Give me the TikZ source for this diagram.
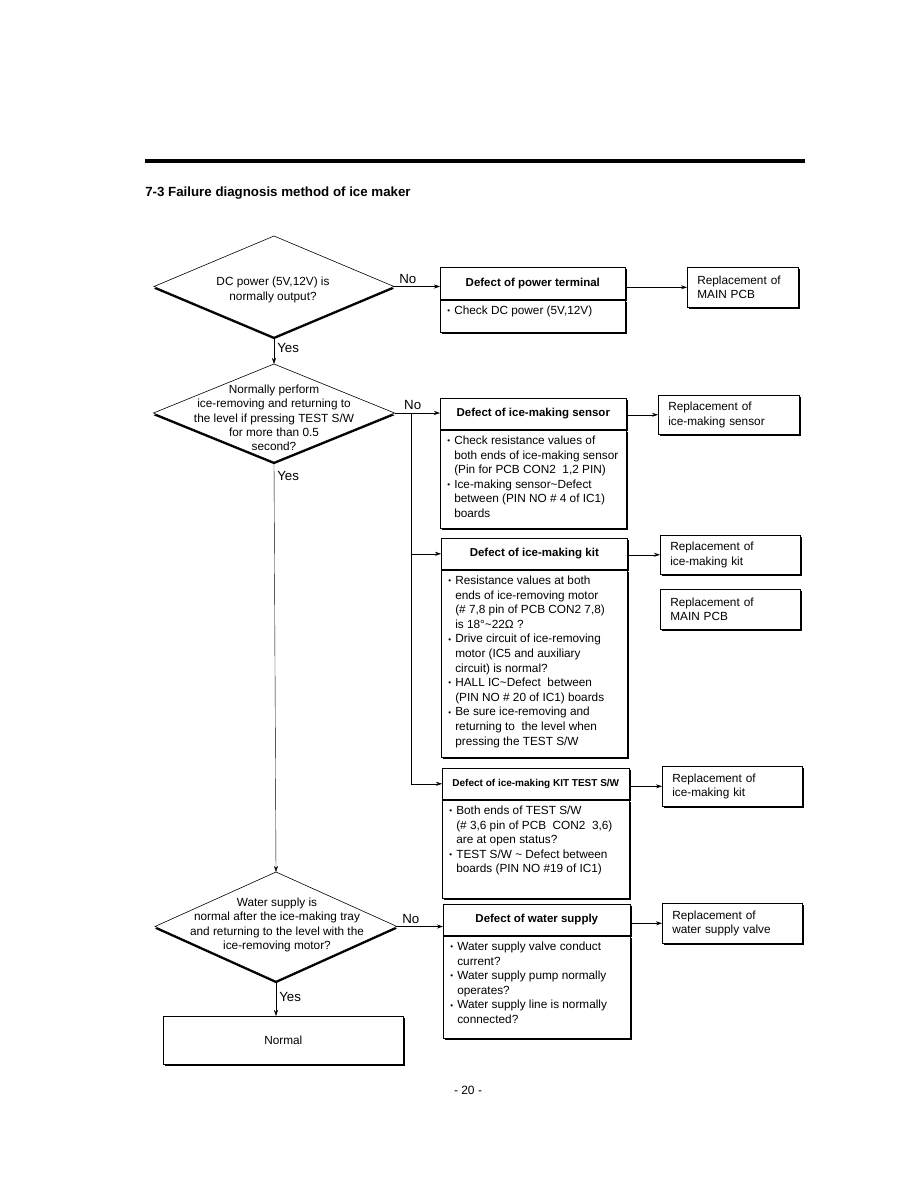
\documentclass[tikz,border=0pt]{standalone}
\usepackage{fontspec}
\setmainfont{Liberation Sans}
\usetikzlibrary{shapes.geometric, shadows, arrows.meta}

\newcommand{\bl}{\makebox[7pt][l]{\raisebox{0.8pt}{\fontsize{8}{8}\selectfont\textbullet}}}
\newcommand{\ind}{\hspace*{7pt}}

\tikzset{
  question/.style={draw, diamond, fill=white, inner sep=0pt, outer sep=0pt, line width=0.6pt,
    drop shadow={shadow xshift=0pt, shadow yshift=-2.2pt, opacity=1, fill=black}},
  qtext/.style={align=center, inner sep=0pt, font=\fontsize{11.8}{14.3}\selectfont},
  headbox/.style={draw, fill=white, anchor=north west, inner sep=0pt, minimum height=31pt, line width=0.6pt,
    font=\bfseries\fontsize{11.5}{14}\selectfont,
    drop shadow={shadow xshift=1.6pt, shadow yshift=-1.6pt, opacity=1, fill=black}},
  bodybox/.style={draw, fill=white, anchor=north, inner xsep=7pt, inner ysep=6pt, line width=0.6pt,
    font=\fontsize{11.8}{14.6}\selectfont,
    drop shadow={shadow xshift=1.6pt, shadow yshift=-1.6pt, opacity=1, fill=black}},
  repbox/.style={draw, fill=white, anchor=north west, align=left, inner xsep=10pt, inner ysep=0pt, line width=0.6pt,
    font=\fontsize{11.8}{14.6}\selectfont,
    drop shadow={shadow xshift=1.6pt, shadow yshift=-1.6pt, opacity=1, fill=black}},
  answer/.style={inner sep=0pt, font=\fontsize{13.3}{14}\selectfont},
}

\begin{document}
\begin{tikzpicture}[x=1pt, y=-1pt, >={Stealth[length=6pt,width=4pt]}, line width=0.6pt]
    \useasboundingbox (0,0) rectangle (918,1188);
    \draw[line width=4pt] (145,161) -- (805,161);
    \node[anchor=west, inner sep=0pt, font=\bfseries\fontsize{13.3}{16}\selectfont] (title) at (145,193) {7-3 Failure diagnosis method of ice maker};

    % first question
    \node[question, minimum width=240pt, minimum height=101pt] (d1) at (274,286.5) {};
    \node[qtext] (d1txt) at (273,290) {DC power (5V,12V) is\\normally output?};
    \node[headbox, minimum width=185pt, minimum height=32pt] (pthead) at (440,267) {Defect of power terminal};
    \node[bodybox] (ptbody) at (pthead.south) {\parbox[c][20pt][t]{171pt}{\bl Check DC power (5V,12V)}};
    \node[repbox, minimum width=111pt, minimum height=40pt, text width=91pt] (pcb1) at (687,267) {Replacement of\\MAIN PCB};

    % second question
    \node[question, minimum width=241pt, minimum height=98pt] (d2) at (274,413) {};
    \node[qtext] (d2txt) at (274,418) {Normally perform\\ice-removing and  returning to\\the level if pressing TEST S/W\\for more than 0.5\\second?};
    \node[headbox, minimum width=186pt] (senshead) at (440,398) {Defect of ice-making sensor};
    \node[bodybox] (sensbody) at (senshead.south) {\parbox[c][86pt][t]{172pt}{\bl Check resistance values of\\
      \ind both ends of ice-making sensor\\
      \ind (Pin for PCB CON2\ \ 1,2 PIN)\\
      \bl Ice-making sensor\textasciitilde Defect\\
      \ind between (PIN NO \# 4 of IC1)\\
      \ind boards}};
    \node[repbox, minimum width=141pt, minimum height=39pt, text width=121pt] (repsens) at (658,395) {Replacement of\\ice-making sensor};

    \node[headbox, minimum width=186pt] (kithead) at (441,538) {Defect of ice-making kit};
    \node[bodybox] (kitbody) at (kithead.south) {\parbox[c][175pt][t]{172pt}{\bl Resistance values at both\\
      \ind ends of ice-removing motor\\
      \ind (\# 7,8 pin of PCB CON2 7,8)\\
      \ind is 18°\textasciitilde 22Ω ?\\
      \bl Drive circuit of ice-removing\\
      \ind motor (IC5 and auxiliary\\
      \ind circuit) is normal?\\
      \bl HALL IC\textasciitilde Defect\ \ between\\
      \ind (PIN NO \# 20 of IC1) boards\\
      \bl Be sure ice-removing and\\
      \ind returning to\ \ the level when\\
      \ind pressing the TEST S/W}};
    \node[repbox, minimum width=140pt, minimum height=39pt, text width=120pt] (repkit) at (660,535) {Replacement of\\ice-making kit};
    \node[repbox, minimum width=140pt, minimum height=40pt, text width=120pt] (pcb2) at (660,589) {Replacement of\\MAIN PCB};

    \node[headbox, minimum width=187pt, font=\bfseries\fontsize{10}{12}\selectfont] (tswhead) at (442,768) {Defect of ice-making KIT TEST S/W};
    \node[bodybox] (tswbody) at (tswhead.south) {\parbox[c][86pt][t]{173pt}{\bl Both ends of TEST S/W\\
      \ind (\# 3,6 pin of PCB\ \ CON2\ \ 3,6)\\
      \ind are at open status?\\
      \bl TEST S/W \textasciitilde\ Defect between\\
      \ind boards (PIN NO \#19 of IC1)}};
    \node[repbox, minimum width=140pt, minimum height=40pt, text width=120pt] (repkit2) at (662,766) {Replacement of\\ice-making kit};

    % third question
    \node[question, minimum width=242pt, minimum height=109pt] (d3) at (276,926.5) {};
    \node[qtext] (d3txt) at (277,925) {Water supply is\\normal after the ice-making tray\\and returning to the level with the\\ice-removing motor?};
    \node[headbox, minimum width=187pt] (wathead) at (443,904) {Defect of water supply};
    \node[bodybox] (watbody) at (wathead.south) {\parbox[c][90pt][t]{173pt}{\bl Water supply valve conduct\\
      \ind current?\\
      \bl Water supply pump normally\\
      \ind operates?\\
      \bl Water supply line is normally\\
      \ind connected?}};
    \node[repbox, minimum width=140pt, minimum height=40pt, text width=120pt] (repvalve) at (662,903) {Replacement of\\water supply valve};
    \node[repbox, minimum width=240pt, minimum height=48pt, align=center, text width=220pt] (normal) at (163,1016) {Normal};

    % connectors
    \draw[->] (d1.east) -- (d1.east -| pthead.west) node[answer, pos=0.3, above=3pt] (no1) {No};
    \draw[->] (pthead.east |- pcb1) -- (pcb1);
    \draw[->] (d1.south) -- (d2.north) node[answer, pos=0.4, right=3pt] (yes1) {Yes};
    \draw[->] (d2.east) -- (d2.east -| senshead.west) node[answer, pos=0.4, above=3pt] (no2) {No};
    \coordinate (split) at (411,413);
    \draw[->, line width=0.4pt] (split) |- (tswhead.west);
    \draw[->, line width=0.4pt] (split |- kithead.west) -- (kithead.west);
    \draw[->] (senshead.east |- repsens) -- (repsens);
    \draw[->] (kithead.east |- repkit) -- (repkit);
    \draw[->] (tswhead.east |- repkit2) -- (repkit2);
    \draw[->, line width=0.4pt] (d2.south) -- (d3.north) node[answer, pos=0.035, right=3pt] (yes2) {Yes};
    \draw[->] (d3.east) -- (d3.east -| wathead.west) node[answer, pos=0.3, above=3pt] (no3) {No};
    \draw[->] (wathead.east |- repvalve) -- (repvalve);
    \draw[->] (d3.south) -- (d3.south |- normal.north) node[answer, pos=0.45, right=3pt] (yes3) {Yes};

    \node[font=\fontsize{12}{14}\selectfont, inner sep=0pt] (page) at (468,1090) {- 20 -};
\end{tikzpicture}
\end{document}
